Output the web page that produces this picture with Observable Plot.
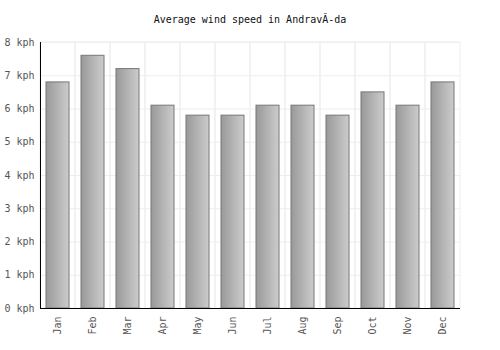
<!DOCTYPE html>
<html>
<head>
<meta charset="utf-8">
<script src="https://cdn.jsdelivr.net/npm/d3@7"></script>
<script src="https://cdn.jsdelivr.net/npm/@observablehq/plot@0.6"></script>
<style>
  html, body { margin: 0; padding: 0; background: #fff; }
  #title { width: 500px; height: 35px; box-sizing: border-box; padding-top: 13px; text-align: center;
    font: 10px "DejaVu Sans Mono", monospace; color: #111; line-height: 14px; }
</style>
</head>
<body>
<div id="title">Average wind speed in AndravÃ-da</div>
<div id="chart"></div>
<script>
const months = ["Jan","Feb","Mar","Apr","May","Jun","Jul","Aug","Sep","Oct","Nov","Dec"];
const speeds = [6.8, 7.6, 7.2, 6.1, 5.8, 5.8, 6.1, 6.1, 5.8, 6.5, 6.1, 6.8];
const yTicks = [0, 1, 2, 3, 4, 5, 6, 7, 8];
const unit = "kph";

const data = months.map((m, i) => ({month: m, speed: speeds[i]}));
const yMax = d3.max(yTicks);
const marginLeft = 40;

const chart = Plot.plot({
  width: 500,
  height: 315,
  marginTop: 7,
  marginBottom: 42,
  marginLeft,
  marginRight: 40,
  style: {fontFamily: "DejaVu Sans Mono, monospace", fontSize: "10px", color: "#555", background: "#fff"},
  x: {domain: months, padding: 0, label: null, tickSize: 0, tickRotate: -90, tickPadding: 8},
  y: {domain: [0, yMax], ticks: yTicks, tickFormat: d => `${d} ${unit}`, label: null, tickSize: 0, tickPadding: 6},
  marks: [
    Plot.gridY(yTicks, {stroke: "#eee", strokeOpacity: 1}),
    Plot.barY(months, {x: d => d, y1: 0, y2: yMax, fill: "none", stroke: "#eee", strokeOpacity: 1}),
    Plot.barY(data, {x: "month", y: "speed", fill: "url(#barGrad)", stroke: "#777", strokeWidth: 1, insetLeft: 6, insetRight: 6}),
    Plot.ruleY([0], {stroke: "#000"})
  ]
});

const svg = d3.select(chart);
// gradient definition
const defs = svg.insert("defs", ":first-child");
const grad = defs.append("linearGradient").attr("id", "barGrad").attr("x1", "0").attr("x2", "1").attr("y1", "0").attr("y2", "0");
grad.append("stop").attr("offset", "0%").attr("stop-color", "#999");
grad.append("stop").attr("offset", "100%").attr("stop-color", "#ccc");

// left axis line from the y scale
const ys = chart.scale("y");
const y0 = ys.apply(0), y1 = ys.apply(yMax);
svg.append("line")
  .attr("x1", marginLeft + 0.5).attr("x2", marginLeft + 0.5)
  .attr("y1", y1).attr("y2", y0)
  .attr("stroke", "#000");

document.getElementById("chart").appendChild(chart);
</script>
</body>
</html>
